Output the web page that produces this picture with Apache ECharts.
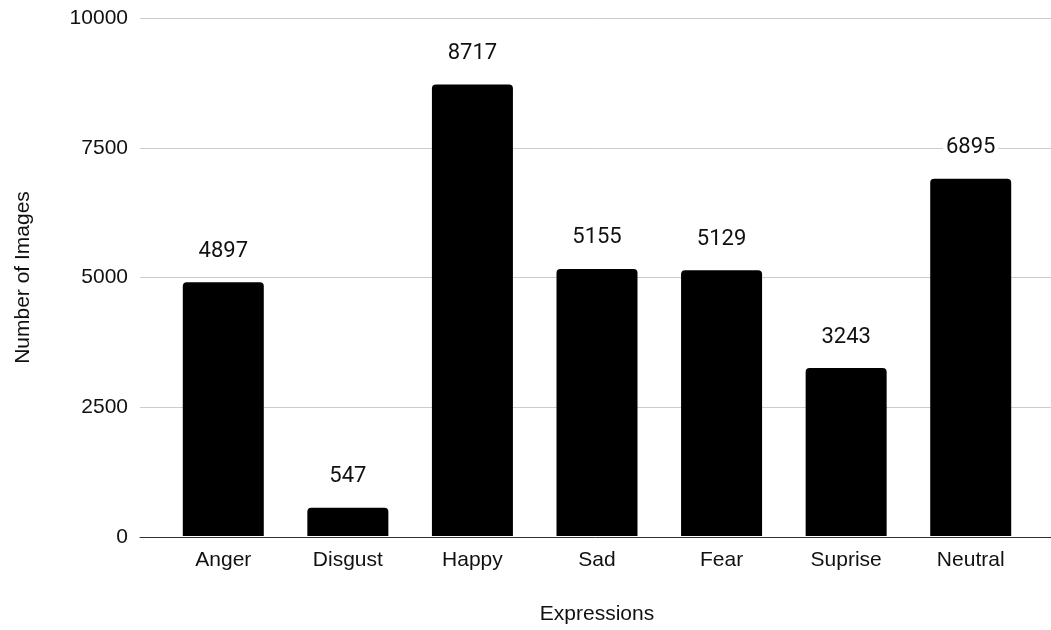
<!DOCTYPE html>
<html>
<head>
<meta charset="utf-8">
<script src="https://cdn.jsdelivr.net/npm/echarts@6/dist/echarts.min.js"></script>
<style>
  html, body { margin: 0; padding: 0; background: #fff; }
  #chart { width: 1051px; height: 630px; }
</style>
</head>
<body>
<div id="chart"></div>
<script>
// Image counts per facial expression class
const categories = ['Anger', 'Disgust', 'Happy', 'Sad', 'Fear', 'Suprise', 'Neutral'];
const imageCounts = [4897, 547, 8717, 5155, 5129, 3243, 6895];
const yTicks = [0, 2500, 5000, 7500, 10000];

const axisFont = 'Liberation Sans, Arial, Helvetica, sans-serif';
const yMin = yTicks[0];
const yMax = yTicks[yTicks.length - 1];
const yStep = yTicks[1] - yTicks[0];

const chart = echarts.init(document.getElementById('chart'), null, { renderer: 'canvas' });

chart.setOption({
  animation: false,
  backgroundColor: '#ffffff',
  grid: [
    // frame grid: gridlines, y labels and baseline span the full width
    { left: 140, right: 0, top: 18, bottom: 93 },
    // bar grid: categories sit inside the frame
    { left: 161, right: 18, top: 18, bottom: 93 }
  ],
  xAxis: [
    {
      gridIndex: 0,
      type: 'value',
      min: 0,
      max: 1,
      axisLine: { show: true, lineStyle: { color: '#333', width: 1 } },
      axisTick: { show: false },
      axisLabel: { show: false },
      splitLine: { show: false }
    },
    {
      gridIndex: 1,
      type: 'category',
      data: categories,
      axisLine: { show: false },
      axisTick: { show: false },
      axisLabel: {
        margin: 14,
        color: '#111',
        fontSize: 21,
        fontFamily: axisFont
      },
      name: 'Expressions',
      nameLocation: 'middle',
      nameGap: 68,
      nameTextStyle: { color: '#111', fontSize: 21, fontFamily: axisFont }
    }
  ],
  yAxis: [
    {
      gridIndex: 0,
      type: 'value',
      min: yMin,
      max: yMax,
      interval: yStep,
      axisLine: { show: false },
      axisTick: { show: false },
      axisLabel: {
        margin: 12,
        color: '#111',
        fontSize: 21,
        fontFamily: axisFont,
        formatter: (v) => String(v)
      },
      splitLine: { show: true, lineStyle: { color: '#cccccc', width: 1 } },
      name: 'Number of Images',
      nameLocation: 'middle',
      nameRotate: 90,
      nameGap: 106,
      nameTextStyle: { color: '#111', fontSize: 21, fontFamily: axisFont }
    },
    {
      gridIndex: 1,
      type: 'value',
      min: yMin,
      max: yMax,
      interval: yStep,
      show: false,
      splitLine: { show: false }
    }
  ],
  series: [
    {
      type: 'bar',
      xAxisIndex: 1,
      yAxisIndex: 1,
      data: imageCounts,
      barWidth: 81,
      itemStyle: { color: '#000000', borderRadius: [4, 4, 0, 0] },
      label: {
        show: true,
        position: 'top',
        distance: 20,
        color: '#111',
        fontSize: 22,
        fontFamily: 'Roboto, sans-serif',
        backgroundColor: '#ffffff',
        padding: [0, 3]
      }
    }
  ]
});
</script>
</body>
</html>
